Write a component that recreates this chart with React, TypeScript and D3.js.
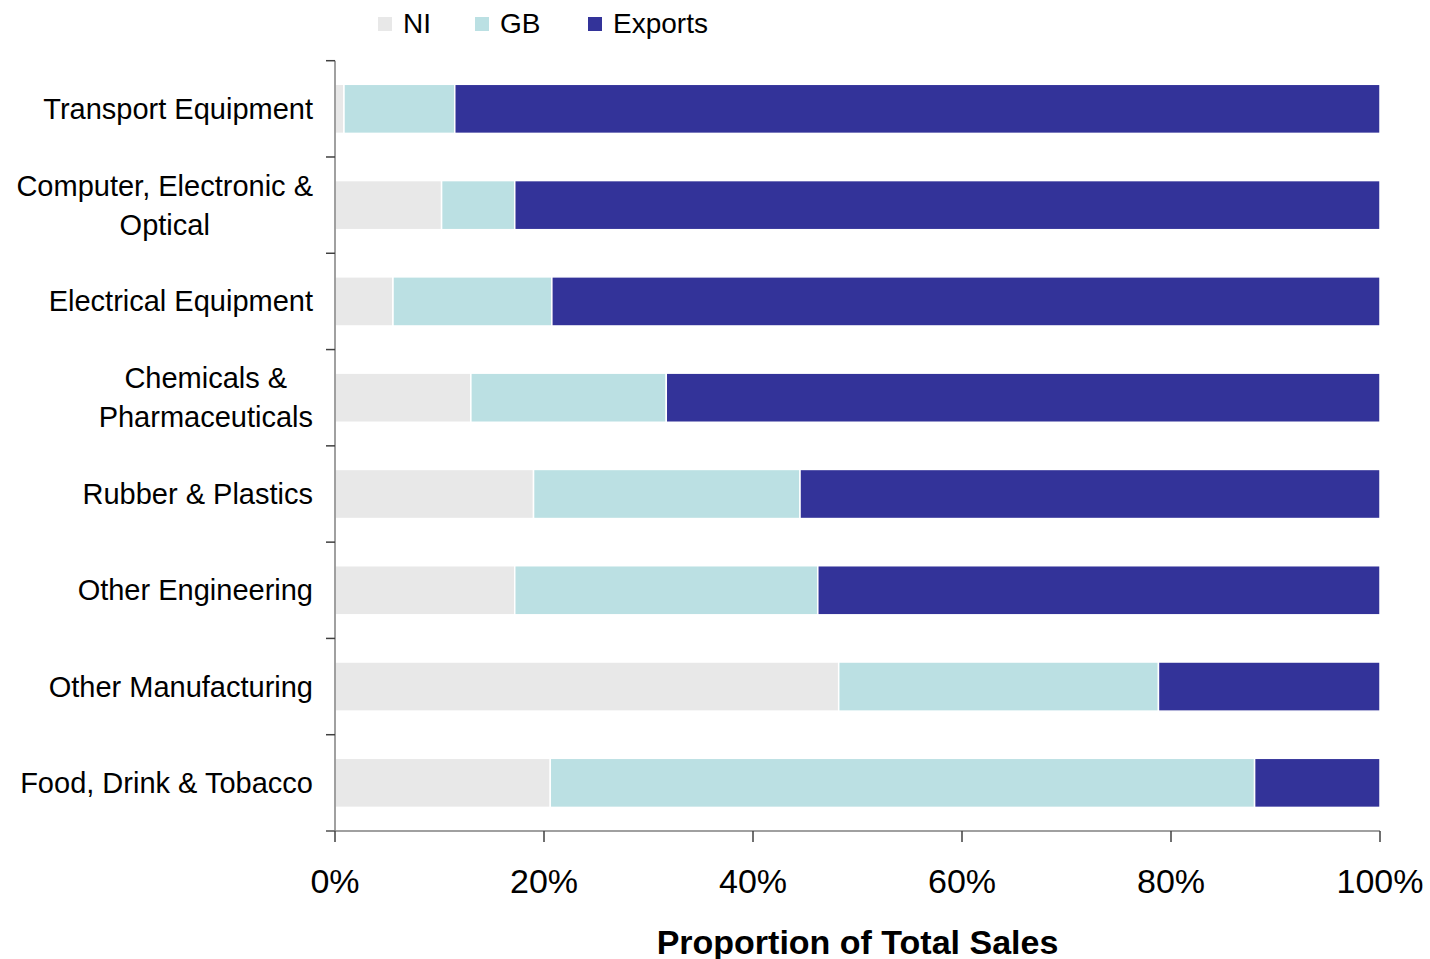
import React, { useEffect, useRef } from "react";
import * as d3 from "d3";

const categories = [
  "Transport Equipment",
  "Computer, Electronic &\nOptical",
  "Electrical Equipment",
  "Chemicals &\nPharmaceuticals",
  "Rubber & Plastics",
  "Other Engineering",
  "Other Manufacturing",
  "Food, Drink & Tobacco",
];
const niValues = [0.86, 10.2, 5.55, 13.0, 19.0, 17.2, 48.2, 20.6];
const gbValues = [10.6, 7.0, 15.2, 18.7, 25.5, 29.0, 30.6, 67.4];
const exportValues = niValues.map((v, i) => 100 - v - gbValues[i]);
const seriesNames = ["NI", "GB", "Exports"];
const seriesColors = ["#e8e8e8", "#bbe0e3", "#333399"];
const xTicks = [0, 20, 40, 60, 80, 100];

const FONT = "'Liberation Sans', Arial, Helvetica, sans-serif";

export default function App() {
  const ref = useRef<SVGSVGElement>(null);

  useEffect(() => {
    const svg = d3.select(ref.current);
    svg.selectAll("*").remove();

    const left = 335, right = 1380, top = 60.7, bottom = 831;
    const x = d3.scaleLinear().domain([0, 100]).range([left, right]);
    const y = d3.scaleBand<number>().domain(d3.range(categories.length)).range([top, bottom]).paddingInner(0.49).paddingOuter(0.245);

    const rows = categories.map((c, i) => ({ i, NI: niValues[i], GB: gbValues[i], Exports: exportValues[i] }));
    const stack = d3.stack<any>().keys(seriesNames)(rows);

    const g = svg.append("g");
    stack.forEach((s, si) => {
      g.selectAll(null)
        .data(s)
        .enter()
        .append("rect")
        .attr("x", (d: any) => x(d[0]))
        .attr("y", (d: any) => y(d.data.i)!)
        .attr("width", (d: any) => Math.max(0, x(d[1]) - x(d[0])))
        .attr("height", y.bandwidth())
        .attr("fill", seriesColors[si])
        .attr("stroke", "#ffffff")
        .attr("stroke-width", 1.5);
    });

    // y axis
    const axisColor = "#808080";
    svg.append("line").attr("x1", left).attr("x2", left).attr("y1", top).attr("y2", bottom)
      .attr("stroke", axisColor).attr("stroke-width", 1.5);
    const boundaries = d3.range(categories.length + 1).map((k) => top + (k * (bottom - top)) / categories.length);
    boundaries.forEach((b) => {
      svg.append("line").attr("x1", 326).attr("x2", left).attr("y1", b).attr("y2", b)
        .attr("stroke", "#404040").attr("stroke-width", 1.5);
    });

    // x axis
    svg.append("line").attr("x1", 326).attr("x2", right).attr("y1", bottom).attr("y2", bottom)
      .attr("stroke", axisColor).attr("stroke-width", 1.5);
    xTicks.forEach((t) => {
      svg.append("line").attr("x1", x(t)).attr("x2", x(t)).attr("y1", bottom).attr("y2", bottom + 11)
        .attr("stroke", "#404040").attr("stroke-width", 1.5);
      svg.append("text").attr("x", x(t)).attr("y", 893).attr("text-anchor", "middle")
        .attr("font-family", FONT).attr("font-size", 34).attr("fill", "#000").text(`${t}%`);
    });

    svg.append("text").attr("x", (left + right) / 2).attr("y", 954).attr("text-anchor", "middle")
      .attr("font-family", FONT).attr("font-size", 34).attr("font-weight", "bold").attr("fill", "#000")
      .text("Proportion of Total Sales");

    // category labels
    categories.forEach((c, i) => {
      const lines = c.split("\n");
      const cy = y(i)! + y.bandwidth() / 2;
      const t = svg.append("text").attr("font-family", FONT).attr("font-size", 29).attr("fill", "#000")
        .attr("text-anchor", "middle");
      const lh = 39;
      lines.forEach((ln, k) => {
        t.append("tspan").attr("x", 0).attr("y", cy + (k - (lines.length - 1) / 2) * lh + 10).text(ln);
      });
      const bb = (t.node() as SVGTextElement).getBBox();
      const cx = 313 - bb.width / 2;
      t.selectAll("tspan").attr("x", cx);
    });

    // legend
    const legendX = [378, 475, 588];
    seriesNames.forEach((n, i) => {
      svg.append("rect").attr("x", legendX[i]).attr("y", 17).attr("width", 14).attr("height", 14)
        .attr("fill", seriesColors[i]);
      svg.append("text").attr("x", legendX[i] + 25).attr("y", 33).attr("font-family", FONT)
        .attr("font-size", 28).attr("fill", "#000").text(n);
    });
  }, []);

  return (
    <svg ref={ref} width={1430} height={959} style={{ position: "absolute", left: 0, top: 0, background: "#fff" }} />
  );
}
